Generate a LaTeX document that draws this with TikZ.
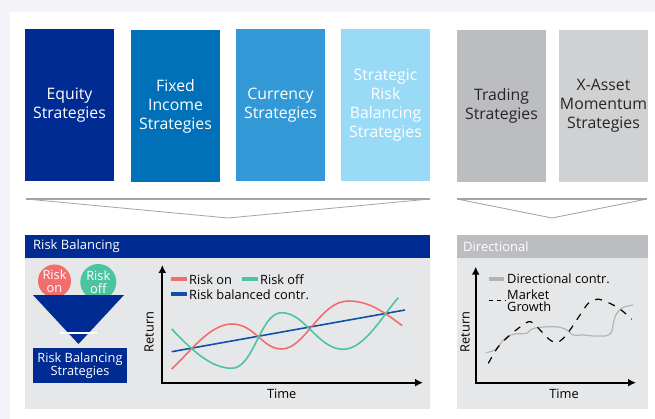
\documentclass[tikz,border=0pt]{standalone}
\usepackage{fontspec}
\setmainfont{Open Sans}
\usetikzlibrary{arrows.meta}
\definecolor{eqblue}{HTML}{002B93}
\definecolor{fiblue}{HTML}{0070B8}
\definecolor{cublue}{HTML}{3399D6}
\definecolor{srblue}{HTML}{99DAF6}
\definecolor{trgray}{HTML}{BCBDC0}
\definecolor{xagray}{HTML}{D0D1D3}
\definecolor{panelgray}{HTML}{E6E7E8}
\definecolor{bggray}{HTML}{F2F4F9}
\definecolor{chevgray}{HTML}{A3A3A3}
\definecolor{riskred}{HTML}{F26D6D}
\definecolor{riskgreen}{HTML}{4DC4A1}
\definecolor{lineblue}{HTML}{1150A8}
\definecolor{dirgray}{HTML}{B3B4B6}
\begin{document}
\begin{tikzpicture}[x=1pt, y=-1pt,
	strat/.style={rectangle, minimum width=89pt, minimum height=152pt, inner sep=0pt, align=center, font=\fontsize{15.8}{19}\selectfont},
	hdr/.style={anchor=west, text=white, inner sep=0pt, font=\fontsize{13}{15}\selectfont},
	lbl/.style={inner sep=0pt, font=\fontsize{12.8}{12.5}\selectfont},
	axis/.style={line width=2pt, {Latex[length=8pt,width=8pt]}-{Latex[length=8pt,width=8pt]}},
	chev/.style={chevgray, line width=0.8pt}]
	\useasboundingbox (0,0) rectangle (655,419);
	\fill[bggray] (0,0) rectangle (655,419);
	\fill[white] (10,12) rectangle (655,419);

	% strategy boxes
	\node[strat, fill=eqblue, text=white] (eq) at (69.5,105) {Equity\\Strategies};
	\node[strat, fill=fiblue, text=white] (fi) at (175.5,106) {Fixed\\Income\\Strategies};
	\node[strat, fill=cublue, text=white] (cu) at (280.5,105) {Currency\\Strategies};
	\node[strat, fill=srblue, text=white] (sr) at (385.5,105) {Strategic\\Risk\\Balancing\\Strategies};
	\node[strat, fill=trgray, text=black!85] (tr) at (501.5,106) {Trading\\Strategies};
	\node[strat, fill=xagray, text=black!85] (xa) at (603.5,106) {X-Asset\\Momentum\\Strategies};

	% chevrons
	\draw[chev, line width=1.6pt] (26,199) -- (430,199);
	\draw[chev] (26,199) -- (228,218) -- (430,199);
	\draw[chev, line width=1.6pt] (457,199) -- (647,199);
	\draw[chev] (457,199) -- (552,218) -- (647,199);

	% panels
	\fill[eqblue] (25,235) rectangle (430,258);
	\fill[panelgray] (25,258) rectangle (430,409);
	\fill[trgray] (457,235) rectangle (648,258);
	\fill[panelgray] (457,258) rectangle (648,409);
	\node[hdr] (rbhdr) at (33,246.5) {Risk Balancing};
	\node[hdr] (dirhdr) at (463,246.5) {Directional};

	% funnel
	\node[circle, fill=riskred, minimum size=33pt, inner sep=0pt, text=white, align=center, font=\fontsize{12.8}{12.5}\selectfont] (on) at (54.5,281) {Risk\\on};
	\node[circle, fill=riskgreen, minimum size=36pt, inner sep=0pt, text=white, align=center, font=\fontsize{12.8}{12.5}\selectfont] (off) at (98.3,282) {Risk\\off};
	\fill[eqblue] (33,295) -- (124,295) -- (78.5,344) -- cycle;
	\draw[white, line width=1.5pt] (60,333) -- (97,333);
	\node[fill=eqblue, text=white, minimum width=94pt, minimum height=35pt, inner sep=0pt, align=center, font=\fontsize{12.8}{13}\selectfont] (rbs) at (80,365.5) {Risk Balancing\\Strategies};

	% risk balancing chart
	\draw[axis] (162.3,265) -- (162.3,382.7) -- (423,382.7);
	\node[lbl, rotate=90] (ret1) at (149,332) {Return};
	\node[lbl] (time1) at (281.7,393.5) {Time};
	\draw[riskred, line width=4pt] (170.7,279.3) -- (186.7,279.3);
	\node[lbl, anchor=west] (lon) at (189,279.3) {Risk on};
	\draw[riskgreen, line width=4pt] (241.7,279.3) -- (257.7,279.3);
	\node[lbl, anchor=west] (loff) at (260,279.3) {Risk off};
	\draw[lineblue, line width=4pt] (170.7,294.3) -- (186.7,294.3);
	\node[lbl, anchor=west] (lbal) at (189,294.3) {Risk balanced contr.};
	\draw[lineblue, line width=1.6pt] (171.7,351.7) -- (405,310);
	\draw[riskred, line width=1.6pt] (171.7,369) .. controls (190,352) and (210,324) .. (231.7,324)
		.. controls (255,324) and (262,349) .. (281.7,349)
		.. controls (305,349) and (320,301) .. (348.3,301)
		.. controls (370,301) and (385,313) .. (402.3,325.7);
	\draw[riskgreen, line width=1.6pt] (171.7,329) .. controls (190,348) and (210,368.3) .. (231.7,368.3)
		.. controls (254,368.3) and (260,312.7) .. (281.7,312.7)
		.. controls (305,312.7) and (318,349.3) .. (343.3,349.3)
		.. controls (365,349.3) and (385,312) .. (398.3,297.7);

	% directional chart
	\draw[axis] (475.7,266.7) -- (475.7,382.7) -- (636,382.7);
	\node[lbl, rotate=90] (ret2) at (465,332) {Return};
	\node[lbl] (time2) at (564,393.5) {Time};
	\draw[dirgray, line width=4pt] (489,279) -- (504,279);
	\node[lbl, anchor=west] (ldir) at (507,279) {Directional contr.};
	\draw[black, line width=1pt, dash pattern=on 4pt off 4pt] (489,300.5) -- (506,300.5);
	\node[lbl, anchor=west, align=left, font=\fontsize{12.8}{12}\selectfont] (lmkt) at (507,300.5) {Market\\Growth};
	\draw[dirgray, line width=1.2pt] plot[smooth, tension=0.5] coordinates {(486,352.7) (493.3,350.7) (498.3,346.7) (503.3,340) (508.3,336) (515,334) (526.7,333.3) (530,330) (536.7,327.7) (550,326.7) (560,327.3) (566.7,330) (573.3,335) (583.3,335) (593.3,336) (606.7,335.7) (611.7,331.7) (613.3,323.3) (616.7,313.3) (623.3,307.3) (633.3,305)};
	\draw[black, line width=1.2pt, dash pattern=on 7pt off 7pt] plot[smooth, tension=0.5] coordinates {(488.3,363.3) (498.3,346.7) (510,335) (518.3,328.3) (528.3,321.7) (533.3,323.3) (541.7,331.7) (550,340) (556.7,342.7) (563.3,338.3) (570,330) (580,315) (588.3,303.3) (596.7,299.3) (601.7,300) (613.3,305) (623.3,311.7) (631.7,319.3)};
\end{tikzpicture}
\end{document}
